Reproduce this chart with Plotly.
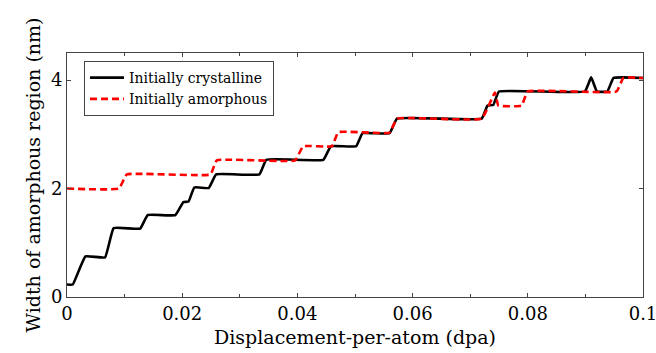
import plotly.graph_objects as go

# Initially crystalline (black solid)
cryst_x = [0, 0.0010, 0.0032, 0.0066, 0.0081, 0.0127, 0.0140, 0.0188, 0.0202, 0.0211,
           0.0221, 0.0246, 0.0259, 0.0334, 0.0346, 0.0445, 0.0458, 0.0502, 0.0513, 0.0560,
           0.0573, 0.0720, 0.0730, 0.0740, 0.0750, 0.0899, 0.0910, 0.0920, 0.0938, 0.0949, 0.1000]
cryst_y = [0.23, 0.23, 0.75, 0.73, 1.27, 1.26, 1.51, 1.51, 1.75, 1.76,
           2.02, 2.01, 2.26, 2.26, 2.53, 2.53, 2.78, 2.78, 3.02, 3.02,
           3.29, 3.29, 3.53, 3.54, 3.79, 3.79, 4.05, 3.79, 3.79, 4.04, 4.04]

# Initially amorphous (red dashed)
amor_x = [0, 0.0090, 0.0104, 0.0249, 0.0260, 0.0396, 0.0410, 0.0460, 0.0471, 0.0560,
          0.0573, 0.0720, 0.0743, 0.0749, 0.0789, 0.0800, 0.0954, 0.0966, 0.1000]
amor_y = [2.0, 2.0, 2.26, 2.26, 2.52, 2.52, 2.78, 2.78, 3.04, 3.03,
          3.29, 3.29, 3.77, 3.53, 3.53, 3.79, 3.79, 4.04, 4.04]

x_ticks = [0, 0.02, 0.04, 0.06, 0.08, 0.1]
x_ticklabels = ["0", "0.02", "0.04", "0.06", "0.08", "0.1"]
y_ticks = [0, 2, 4]
y_ticklabels = ["0", "2", "4"]

FONT = "DejaVu Serif"

fig = go.Figure()
fig.add_trace(go.Scatter(x=cryst_x, y=cryst_y, mode="lines", name="Initially crystalline",
                         line=dict(color="black", width=2.6, shape="spline", smoothing=0.3)))
fig.add_trace(go.Scatter(x=amor_x, y=amor_y, mode="lines", name="Initially amorphous",
                         line=dict(color="red", width=2.6, dash="7px,4px", shape="spline", smoothing=0.3)))

axis_common = dict(showline=True, linecolor="#444", linewidth=1, mirror="ticks",
                   ticks="inside", ticklen=4, tickcolor="#444", showgrid=False, zeroline=False,
                   automargin=False, ticklabeloverflow="allow",
                   tickfont=dict(family=FONT, size=18, color="black"))

fig.update_layout(
    width=656, height=353,
    margin=dict(l=67, r=13, t=53, b=56, autoexpand=False),
    paper_bgcolor="white", plot_bgcolor="white",
    showlegend=True,
    legend=dict(x=0.0295, y=0.967, xanchor="left", yanchor="top",
                bgcolor="white", bordercolor="#444", borderwidth=1,
                font=dict(family=FONT, size=14, color="black"),
                tracegroupgap=0, itemwidth=34),
    xaxis=dict(range=[0, 0.1], tickvals=x_ticks, ticktext=x_ticklabels,
               minor=dict(dtick=0.01, ticks="inside", ticklen=3, tickcolor="#444"),
               title=dict(text="Displacement-per-atom (dpa)", font=dict(family=FONT, size=19, color="black"),
                          standoff=8),
               **axis_common),
    yaxis=dict(range=[0, 4.5], tickvals=y_ticks, ticktext=y_ticklabels,
               title=dict(text="Width of amorphous region (nm)", font=dict(family=FONT, size=19, color="black"),
                          standoff=5),
               **axis_common),
)

fig.write_html("out.html")
